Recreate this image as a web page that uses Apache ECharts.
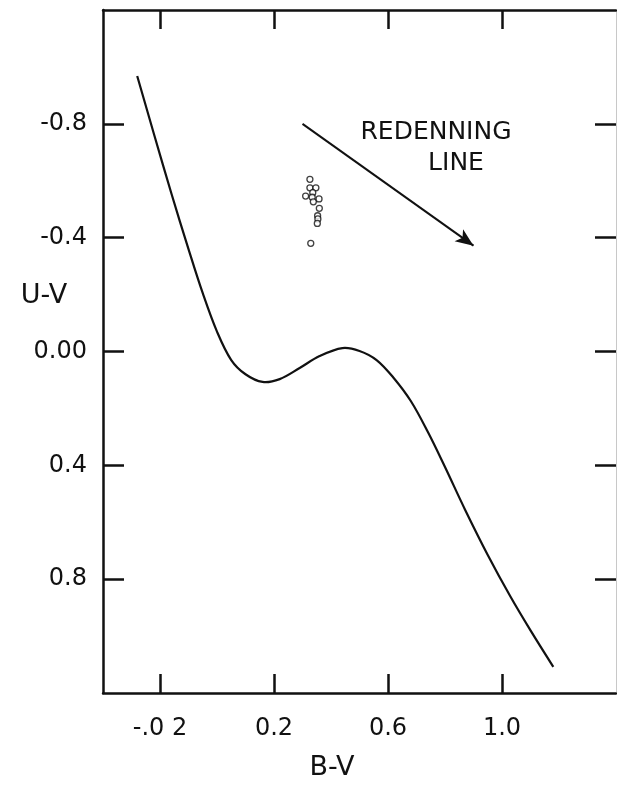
<!DOCTYPE html>
<html>
<head>
<meta charset="utf-8">
<title>U-V / B-V</title>
<script src="https://cdn.jsdelivr.net/npm/echarts@6/dist/echarts.min.js"></script>
<style>
  html, body { margin: 0; padding: 0; background: #fff; }
  #chart { width: 617px; height: 785px; }
</style>
</head>
<body>
<div id="chart"></div>
<script>
// 曲线 (B-V, U-V)
const curveBV = [-0.28, -0.22, -0.16, -0.1, -0.05, 0.0, 0.05, 0.1, 0.16, 0.22, 0.29, 0.36, 0.44, 0.5, 0.56, 0.62, 0.68, 0.74, 0.8, 0.87, 0.95, 1.03, 1.1, 1.18]
const curveUV = [-0.968, -0.76, -0.555, -0.36, -0.205, -0.07, 0.03, 0.08, 0.107, 0.097, 0.058, 0.016, -0.012, -0.002, 0.03, 0.093, 0.174, 0.283, 0.406, 0.555, 0.715, 0.862, 0.98, 1.108]

// 观测点
const starBV = [0.326, 0.326, 0.347, 0.311, 0.336, 0.334, 0.338, 0.358, 0.359, 0.353, 0.354, 0.352, 0.329]
const starUV = [-0.605, -0.575, -0.575, -0.546, -0.558, -0.542, -0.526, -0.536, -0.503, -0.477, -0.466, -0.45, -0.38]

// 红化线 起点 / 终点
const reddenStart = [0.30, -0.80]
const reddenEnd = [0.90, -0.372]

// 刻度
const xTickValues = [-0.2, 0.2, 0.6, 1.0]
const xTickLabels = ['-.0 2', '0.2', '0.6', '1.0']
const yTickValues = [-0.8, -0.4, 0, 0.4, 0.8]
const yTickLabels = ['-0.8', '-0.4', '0.00', '0.4', '0.8']

const FONT = 'DejaVu Sans'
const INK = '#111'

const chart = echarts.init(document.getElementById('chart'))

const pick = (values, labels) => (v) => {
  const i = values.findIndex((t) => Math.abs(t - v) < 1e-6)
  return i < 0 ? '' : labels[i]
}

const xBase = {
  min: -0.4,
  max: 1.4,
  type: 'value',
  splitLine: { show: false },
  axisLine: { show: true, onZero: false, lineStyle: { color: INK, width: 2.5 } },
  axisTick: { show: true, inside: true, length: 19, customValues: xTickValues, lineStyle: { color: INK, width: 2.5 } },
}
const yBase = {
  min: -1.2,
  max: 1.2,
  type: 'value',
  inverse: true,
  splitLine: { show: false },
  axisTick: { show: true, inside: true, length: 21, customValues: yTickValues, lineStyle: { color: INK, width: 2.5 } },
}

// 平滑曲线: 用 api.coord 把数据点映射到像素, 再交给 polyline 平滑
const renderCurve = (params, api) => {
  if (params.dataIndex !== 0) return
  const points = curveBV.map((x, i) => api.coord([x, curveUV[i]]))
  return {
    type: 'polyline',
    shape: { points: points, smooth: 0.35 },
    style: { stroke: INK, lineWidth: 2.2, fill: null },
  }
}

const option = {
  animation: false,
  backgroundColor: '#fff',
  grid: { left: 103, right: 1, top: 10, bottom: 92 },
  xAxis: [
    Object.assign({}, xBase, {
      position: 'bottom',
      axisLabel: {
        customValues: xTickValues,
        formatter: pick(xTickValues, xTickLabels),
        fontFamily: FONT,
        fontSize: 24,
        color: INK,
        margin: 24,
      },
    }),
    Object.assign({}, xBase, {
      position: 'top',
      axisLabel: { show: false },
    }),
  ],
  yAxis: [
    Object.assign({}, yBase, {
      position: 'left',
      axisLine: { show: true, onZero: false, lineStyle: { color: INK, width: 2.5 } },
      axisLabel: {
        customValues: yTickValues,
        formatter: pick(yTickValues, yTickLabels),
        fontFamily: FONT,
        fontSize: 24,
        color: INK,
        margin: 16,
      },
    }),
    Object.assign({}, yBase, {
      position: 'right',
      axisLine: { show: true, onZero: false, lineStyle: { color: '#c8c8c8', width: 1 } },
      axisLabel: { show: false },
    }),
  ],
  graphic: [
    { type: 'text', x: 44, y: 296, style: { text: 'U-V', font: '27px ' + FONT, fill: INK, align: 'center', verticalAlign: 'middle' } },
    { type: 'text', x: 332, y: 768, style: { text: 'B-V', font: '27px ' + FONT, fill: INK, align: 'center', verticalAlign: 'middle' } },
    { type: 'text', x: 436, y: 132, style: { text: 'REDENNING', font: '25px ' + FONT, fill: INK, align: 'center', verticalAlign: 'middle' } },
    { type: 'text', x: 456, y: 163, style: { text: 'LINE', font: '25px ' + FONT, fill: INK, align: 'center', verticalAlign: 'middle' } },
  ],
  series: [
    {
      name: 'curve',
      type: 'custom',
      renderItem: renderCurve,
      data: curveBV.map((x, i) => [x, curveUV[i]]),
    },
    {
      name: 'stars',
      type: 'scatter',
      symbol: 'circle',
      symbolSize: 6,
      itemStyle: { color: '#fff', borderColor: INK, borderWidth: 1.3 },
      data: starBV.map((x, i) => [x, starUV[i]]),
    },
    {
      name: 'reddening',
      type: 'line',
      data: [],
      markLine: {
        silent: true,
        animation: false,
        symbol: ['none', 'arrow'],
        symbolSize: [11, 18],
        label: { show: false },
        lineStyle: { color: INK, width: 2, type: 'solid' },
        data: [[{ coord: reddenStart }, { coord: reddenEnd }]],
      },
    },
  ],
}

chart.setOption(option)
</script>
</body>
</html>
